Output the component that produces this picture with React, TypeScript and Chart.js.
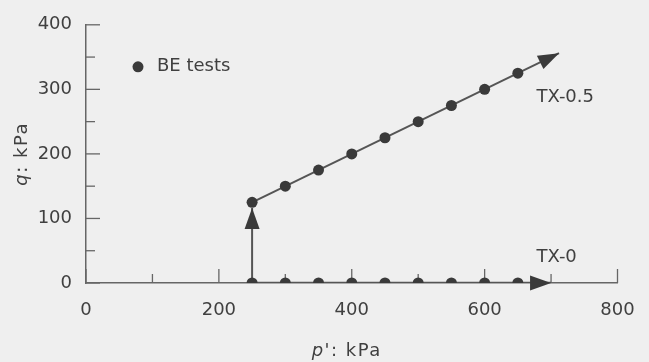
import React, { useEffect, useRef } from 'react';
import { Chart, registerables } from 'chart.js';

Chart.register(...registerables);

// BE test points along TX-0.5 stress path
const tx05P = [250, 300, 350, 400, 450, 500, 550, 600, 650];
const tx05Q = [125, 150, 175, 200, 225, 250, 275, 300, 325];
// BE test points along TX-0 stress path
const tx0P = [250, 300, 350, 400, 450, 500, 550, 600, 650];
const tx0Q = [0, 0, 0, 0, 0, 0, 0, 0, 0];

// stress paths (with arrow heads at the end)
const pathTx05P = [250, 712];
const pathTx05Q = [125, 356];
const pathTx0P = [250, 700];
const pathTx0Q = [0, 0];
const pathVertP = [250, 250];
const pathVertQ = [0, 116];

// axes
const xMajorTicks = [0, 200, 400, 600, 800];
const xMinorTicks = [100, 300, 500, 700];
const yMajorTicks = [0, 100, 200, 300, 400];
const yMinorTicks = [50, 150, 250, 350];

// path labels
const pathLabels = ['TX-0.5', 'TX-0'];
const pathLabelP = [678, 678];
const pathLabelQ = [281, 33];

const FONT = "'DejaVu Sans', 'Liberation Sans', sans-serif";
const TEXT = '#404040';
const MARK = '#3a3a3a';
const LINE = '#555555';
const AXIS = '#666666';

const toXY = (xs: number[], ys: number[]) => xs.map((x, i) => ({ x, y: ys[i] }));

const decor = {
  id: 'decor',
  beforeDraw(chart: any) {
    const ctx = chart.ctx;
    ctx.save();
    ctx.fillStyle = '#efefef';
    ctx.fillRect(0, 0, chart.width, chart.height);
    ctx.restore();
  },
  beforeDatasetsDraw(chart: any) {
    const ctx = chart.ctx;
    const xs = chart.scales.x;
    const ys = chart.scales.y;
    const { left, bottom } = chart.chartArea;
    ctx.save();
    ctx.strokeStyle = AXIS;
    ctx.lineWidth = 1.3;
    const tickY = (v: number, len: number) => {
      const py = ys.getPixelForValue(v);
      ctx.beginPath();
      ctx.moveTo(left, py);
      ctx.lineTo(left + len, py);
      ctx.stroke();
    };
    const tickX = (v: number, len: number) => {
      const px = xs.getPixelForValue(v);
      ctx.beginPath();
      ctx.moveTo(px, bottom);
      ctx.lineTo(px, bottom - len);
      ctx.stroke();
    };
    yMajorTicks.forEach((v) => tickY(v, 14));
    yMinorTicks.forEach((v) => tickY(v, 9));
    xMajorTicks.forEach((v) => tickX(v, 14));
    xMinorTicks.forEach((v) => tickX(v, 9));
    ctx.restore();
  },
  afterDatasetsDraw(chart: any) {
    const ctx = chart.ctx;
    const xs = chart.scales.x;
    const ys = chart.scales.y;
    const area = chart.chartArea;
    ctx.save();
    // arrow heads
    chart.data.datasets.forEach((ds: any) => {
      if (!ds.arrow) return;
      const n = ds.data.length;
      const a = ds.data[n - 2];
      const b = ds.data[n - 1];
      const ax = xs.getPixelForValue(a.x), ay = ys.getPixelForValue(a.y);
      const bx = xs.getPixelForValue(b.x), by = ys.getPixelForValue(b.y);
      const ang = Math.atan2(by - ay, bx - ax);
      const L = 21, W = 7.5;
      const cx = bx - L * Math.cos(ang), cy = by - L * Math.sin(ang);
      ctx.fillStyle = MARK;
      ctx.beginPath();
      ctx.moveTo(bx, by);
      ctx.lineTo(cx + W * Math.sin(ang), cy - W * Math.cos(ang));
      ctx.lineTo(cx - W * Math.sin(ang), cy + W * Math.cos(ang));
      ctx.closePath();
      ctx.fill();
    });
    // path labels
    ctx.fillStyle = TEXT;
    ctx.font = `18px ${FONT}`;
    ctx.textAlign = 'left';
    ctx.textBaseline = 'alphabetic';
    pathLabels.forEach((t, i) => {
      ctx.fillText(t, xs.getPixelForValue(pathLabelP[i]), ys.getPixelForValue(pathLabelQ[i]));
    });
    // legend
    const ds0 = chart.data.datasets[0];
    const lx = area.left + 52, ly = area.top + 42;
    ctx.fillStyle = ds0.pointBackgroundColor;
    ctx.beginPath();
    ctx.arc(lx, ly, 5.5, 0, Math.PI * 2);
    ctx.fill();
    ctx.fillStyle = TEXT;
    ctx.textBaseline = 'middle';
    ctx.fillText(ds0.label, lx + 19, ly);
    ctx.restore();

    // axis titles
    const drawTitle = (italic: string, rest: string, x: number, y: number, rot: number) => {
      ctx.save();
      ctx.translate(x, y);
      ctx.rotate(rot);
      ctx.fillStyle = TEXT;
      ctx.textBaseline = 'alphabetic';
      ctx.textAlign = 'left';
      (ctx as any).letterSpacing = '1.5px';
      ctx.font = `italic 18px ${FONT}`;
      const w1 = ctx.measureText(italic).width;
      ctx.font = `18px ${FONT}`;
      const w2 = ctx.measureText(rest).width;
      const start = -(w1 + w2) / 2;
      ctx.font = `italic 18px ${FONT}`;
      ctx.fillText(italic, start, 0);
      ctx.font = `18px ${FONT}`;
      ctx.fillText(rest, start + w1, 0);
      ctx.restore();
    };
    drawTitle('q', ': kPa', 27, (area.top + area.bottom) / 2, -Math.PI / 2);
    drawTitle('p', "': kPa", (area.left + area.right) / 2 - 5, 356, 0);
  },
};

export default function App() {
  const ref = useRef<HTMLCanvasElement | null>(null);
  useEffect(() => {
    document.body.style.margin = '0';
    if (!ref.current) return;
    const chart = new Chart(ref.current, {
      type: 'scatter',
      data: {
        datasets: [
          {
            label: 'BE tests',
            data: [...toXY(tx05P, tx05Q), ...toXY(tx0P, tx0Q)],
            pointRadius: 5.5,
            pointBorderWidth: 0,
            pointBackgroundColor: MARK,
            pointBorderColor: MARK,
            showLine: false,
            order: 1,
          } as any,
          {
            label: 'TX-0.5 path',
            data: toXY(pathTx05P, pathTx05Q),
            showLine: true,
            pointRadius: 0,
            borderColor: LINE,
            borderWidth: 2,
            arrow: true,
            order: 2,
          },
          {
            label: 'TX-0 path',
            data: toXY(pathTx0P, pathTx0Q),
            showLine: true,
            pointRadius: 0,
            borderColor: LINE,
            borderWidth: 2.5,
            arrow: true,
            order: 2,
          },
          {
            label: 'Isotropic path',
            data: toXY(pathVertP, pathVertQ),
            showLine: true,
            pointRadius: 0,
            borderColor: LINE,
            borderWidth: 2,
            arrow: true,
            order: 2,
          },
        ],
      },
      options: {
        animation: false,
        responsive: false,
        layout: { padding: { left: 0, right: 31.5, top: 20, bottom: 0 } },
        plugins: { legend: { display: false }, tooltip: { enabled: false } },
        scales: {
          x: {
            type: 'linear',
            min: 0,
            max: 800,
            afterFit: (s: any) => { s.height = 79; },
            grid: { display: false, drawTicks: false },
            border: { display: true, color: AXIS, width: 1.5 },
            ticks: {
              stepSize: 200,
              padding: 14,
              color: TEXT,
              font: { family: FONT, size: 18, lineHeight: 1.5 },
              maxRotation: 0,
            },
          },
          y: {
            type: 'linear',
            min: 0,
            max: 400,
            afterFit: (s: any) => { s.width = 86; },
            grid: { display: false, drawTicks: false },
            border: { display: true, color: AXIS, width: 1.5 },
            ticks: {
              stepSize: 100,
              padding: 14,
              color: TEXT,
              font: { family: FONT, size: 18 },
            },
          },
        },
      },
      plugins: [decor],
    } as any);
    return () => chart.destroy();
  }, []);
  return <canvas ref={ref} width={649} height={362} style={{ display: 'block' }} />;
}
